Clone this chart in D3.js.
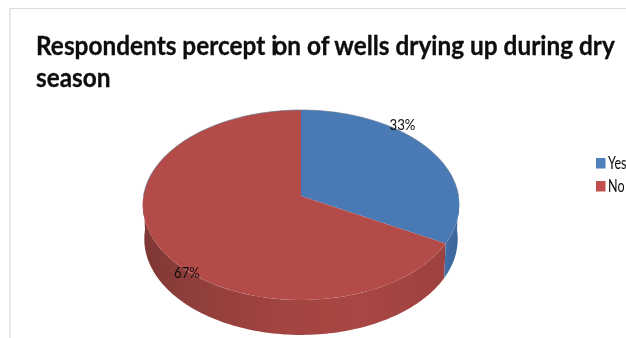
<!DOCTYPE html>
<html>
<head>
<meta charset="utf-8">
<script src="https://cdn.jsdelivr.net/npm/d3@7/dist/d3.min.js"></script>
<style>
html,body{margin:0;padding:0;background:#fff;overflow:hidden}
svg{display:block}
text{font-family:Lato,"Open Sans",sans-serif;fill:#0b0b0b}
</style>
</head>
<body>
<svg id="chart" width="626" height="338"></svg>
<script>
const categories = ["Yes", "No"];
const values = [33, 67];
const percentLabels = ["33%", "67%"];
const topColors = ["#4a7ab5", "#b34b48"];
const titleLine1 = ["Respondents percept i", "on of wells drying up during dry"];
const titleLine2 = "season";

const W = 626, H = 338;
const svg = d3.select("#chart").attr("viewBox", [0, 0, W, H]);
const defs = svg.append("defs");
defs.append("filter").attr("id", "soft").attr("x", "-5%").attr("y", "-5%").attr("width", "110%").attr("height", "110%")
  .append("feGaussianBlur").attr("stdDeviation", 0.45);

// chart frame
svg.append("path").attr("d", "M10,338V8.5H626").attr("fill", "none").attr("stroke", "#dcdcdc").attr("stroke-width", 1.2);

// wall gradients
const redWall = defs.append("linearGradient").attr("id", "redWall").attr("gradientUnits", "userSpaceOnUse")
  .attr("x1", 143).attr("x2", 446).attr("y1", 0).attr("y2", 0);
[[0, "#7e3735"], [0.15, "#8f3e3b"], [0.45, "#a24441"], [0.72, "#a84644"], [1, "#9d4240"]]
  .forEach(([o, c]) => redWall.append("stop").attr("offset", o).attr("stop-color", c));
const blueWall = defs.append("linearGradient").attr("id", "blueWall").attr("gradientUnits", "userSpaceOnUse")
  .attr("x1", 444).attr("x2", 460).attr("y1", 0).attr("y2", 0);
[[0, "#3f6ea6"], [1, "#3d659a"]]
  .forEach(([o, c]) => blueWall.append("stop").attr("offset", o).attr("stop-color", c));

// perspective projection of the tilted disc
const persp = 0.0947;
const project = (ang, cx, cy, a, b) => {
  const u = Math.sin(ang), v = -Math.cos(ang), d = 1 - persp * v;
  return [cx + b * u / d, cy + a * v / d];
};
const topPt = a => project(a, 301, 196, 94.1, 157.5);
const botPt = a => project(a, 301, 230, 95, 156);
const pts = (f, a0, a1) => d3.range(0, 121).map(i => f(a0 + (a1 - a0) * i / 120));
const line = d3.line();

const slices = d3.pie().sort(null).value(d => d)(values);
const g = svg.append("g").attr("filter", "url(#soft)");

// side walls (only the part facing the viewer, from 90deg to 270deg)
const wallStart = Math.PI * 0.5, wallEnd = Math.PI * 1.5;
slices.slice().reverse().forEach(s => {
  const a0 = Math.max(s.startAngle, wallStart), a1 = Math.min(s.endAngle, wallEnd);
  if (a1 <= a0) return;
  const poly = pts(topPt, a0, a1).concat(pts(botPt, a0, a1).reverse());
  g.append("path").attr("d", line(poly) + "Z")
    .attr("fill", s.index === 0 ? "url(#blueWall)" : "url(#redWall)");
});

// top faces
slices.forEach(s => {
  const poly = [[301, 196]].concat(pts(topPt, s.startAngle, s.endAngle));
  g.append("path").attr("d", line(poly) + "Z").attr("fill", topColors[s.index]);
});
// thin darker rim on the back of the disc
g.append("path").attr("d", line(pts(topPt, -Math.PI / 2, Math.PI / 2)))
  .attr("fill", "none").attr("stroke", "#5d6f88").attr("stroke-width", 0.8).attr("opacity", 0.8);

// data labels
const labelPos = [[402.5, 130], [187, 278]];
const labels = svg.append("g").attr("filter", "url(#soft)");
percentLabels.forEach((t, i) => {
  labels.append("text").attr("text-anchor", "middle")
    .attr("transform", `translate(${labelPos[i][0]},${labelPos[i][1]}) scale(0.88,1)`)
    .attr("font-size", 15).text(t);
});

// legend
const legend = svg.append("g").attr("filter", "url(#soft)");
categories.forEach((c, i) => {
  const y = 158 + i * 23;
  legend.append("rect").attr("x", 596).attr("y", y).attr("width", 9.5).attr("height", 10.5)
    .attr("fill", i === 0 ? "#4f81bd" : "#c0504d");
  legend.append("text").attr("transform", `translate(608,${y + 11}) scale(0.74,1)`)
    .attr("font-size", 17).text(c);
});

// title
const titleG = svg.append("g").attr("filter", "url(#soft)").attr("stroke", "#0b0b0b").attr("stroke-width", 0.3);
const t1 = titleG.append("text").attr("font-size", 27).attr("font-weight", 700);
t1.append("tspan").text(titleLine1[0]);
t1.append("tspan").attr("dx", -4.5).text(titleLine1[1]);
const sx = 583 / t1.node().getComputedTextLength();
t1.attr("transform", `translate(36,55) scale(${sx},1)`);
titleG.append("text").attr("font-size", 27).attr("font-weight", 700)
  .attr("transform", `translate(36,87) scale(${sx},1)`).text(titleLine2);
</script>
</body>
</html>
